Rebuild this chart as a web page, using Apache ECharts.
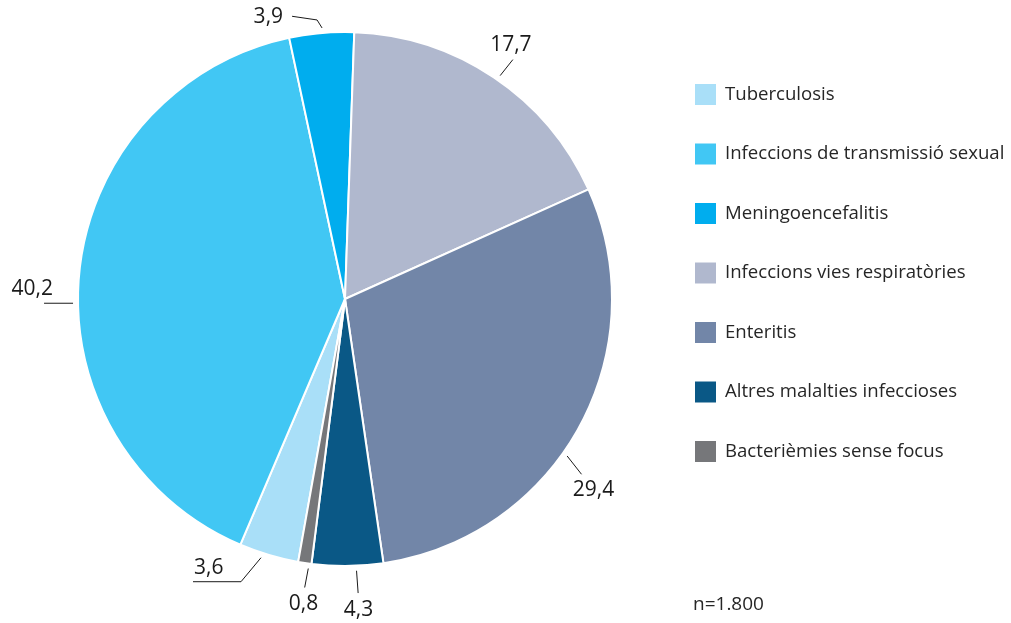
<!DOCTYPE html>
<html>
<head>
<meta charset="utf-8">
<script src="https://cdn.jsdelivr.net/npm/echarts@6/dist/echarts.min.js"></script>
<style>
html,body{margin:0;padding:0;background:#fff;}
#chart{width:1011px;height:623px;}
</style>
</head>
<body>
<div id="chart"></div>
<script>
// ---- data ----
const CATEGORIES = [
  'Tuberculosis',
  'Infeccions de transmissió sexual',
  'Meningoencefalitis',
  'Infeccions vies respiratòries',
  'Enteritis',
  'Altres malalties infeccioses',
  'Bacterièmies sense focus'
];
const VALUES = [3.6, 40.2, 3.9, 17.7, 29.4, 4.3, 0.8];
const COLORS = ['#a9dff8', '#41c7f4', '#00adee', '#b0b8ce', '#7286a8', '#0a5886', '#76777a'];
const NOTE = 'n=1.800';

// ---- layout / style ----
const CX = 345, CY = 299, RADIUS = 267, GAP = 5, START_ANGLE = 259.9;
const FONT = '"Open Sans", "Noto Sans", sans-serif';
// leader-line styling per slice (angle shift, elbow offset, tail offset, text offset, align)
const LEADERS = [
  {shift: -1.4, elbow: [-20, 24],   tail: [-48, 0],  text: [1, -13.5], align: 'left'},
  {shift: 6.4,  elbow: [-29, 0],    tail: [0, 0],    text: [9, -14.5], align: 'right'},
  {shift: -0.2, elbow: [-5, -8],    tail: [-25, -3.7], text: [-9, 1], align: 'right'},
  {shift: -0.9, elbow: [12.7, -16], tail: [0, 0],    text: [-2, -15],  align: 'center'},
  {shift: -6.5, elbow: [14.4, 18.3],tail: [0, 0],    text: [12, 16],   align: 'center'},
  {shift: 1.9,  elbow: [1.6, 22.3], tail: [0, 0],    text: [0.4, 16.5],align: 'center'},
  {shift: 0.9,  elbow: [-3.6, 19],  tail: [0, 0],    text: [-1.2, 17], align: 'center'}
];

const TOTAL = VALUES.reduce((a, b) => a + b, 0);

const chart = echarts.init(document.getElementById('chart'), null, {renderer: 'canvas'});
chart.setOption({
  animation: false,
  color: COLORS,
  legend: {
    orient: 'vertical',
    left: 693,
    top: 82,
    padding: 0,
    itemWidth: 23,
    itemHeight: 23,
    itemGap: 34.5,
    icon: 'rect',
    selectedMode: false,
    data: CATEGORIES,
    textStyle: {fontFamily: FONT, fontSize: 18.6, color: '#262626', padding: [0, 0, 0, 3]}
  },
  graphic: [{
    type: 'text',
    left: 693,
    top: 595,
    style: {text: NOTE, fontFamily: FONT, fontSize: 19, fill: '#262626'}
  }],
  series: [{
    type: 'pie',
    center: [CX, CY],
    radius: RADIUS,
    startAngle: START_ANGLE,
    clockwise: true,
    avoidLabelOverlap: false,
    itemStyle: {borderColor: '#fff', borderWidth: 2},
    label: {
      show: true,
      position: 'outside',
      fontFamily: FONT,
      fontSize: 21,
      color: '#1a1a1a',
      formatter: p => p.value.toFixed(1).replace('.', ',')
    },
    labelLine: {show: true, length: 10, length2: 10, lineStyle: {color: '#1a1a1a', width: 1}},
    labelLayout: function (params) {
      const i = params.dataIndex;
      const L = LEADERS[i];
      let cum = 0;
      for (let j = 0; j < i; j++) cum += VALUES[j];
      const mid = START_ANGLE - (cum + VALUES[i] / 2) / TOTAL * 360 + L.shift;
      const rad = mid * Math.PI / 180;
      const r = RADIUS + GAP;
      const sx = CX + r * Math.cos(rad), sy = CY - r * Math.sin(rad);
      const ex = sx + L.elbow[0], ey = sy + L.elbow[1];
      const tx = ex + L.tail[0], ty = ey + L.tail[1];
      return {
        x: tx + L.text[0],
        y: ty + L.text[1],
        align: L.align,
        verticalAlign: 'middle',
        labelLinePoints: [[sx, sy], [ex, ey], [tx, ty]]
      };
    },
    emphasis: {disabled: true},
    data: CATEGORIES.map((name, i) => ({name: name, value: VALUES[i]}))
  }]
});
</script>
</body>
</html>
